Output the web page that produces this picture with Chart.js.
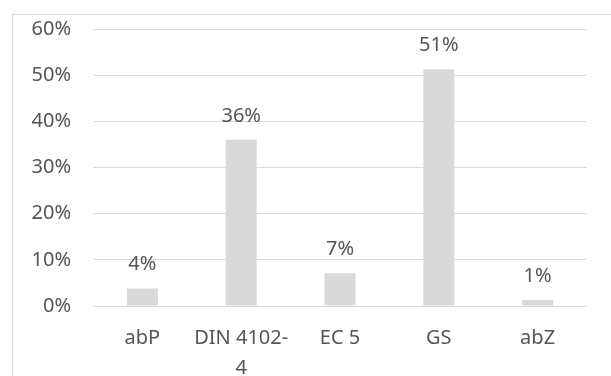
<!DOCTYPE html>
<html>
<head>
<meta charset="utf-8">
<script src="https://cdn.jsdelivr.net/npm/chart.js@4/dist/chart.umd.min.js"></script>
<style>
  html, body { margin: 0; padding: 0; background: #fff; overflow: hidden; }
  #wrap { position: relative; width: 611px; height: 376px; }
  #frame { position: absolute; left: 12px; top: 14px; width: 700px; height: 500px; border: 1px solid #D9D9D9; box-sizing: border-box; }
  canvas { position: absolute; left: 0; top: 0; }
</style>
</head>
<body>
<div id="wrap">
  <div id="frame"></div>
  <canvas id="c" width="611" height="376"></canvas>
</div>
<script>
const categories = ['abP', ['DIN 4102-', '4'], 'EC 5', 'GS', 'abZ'];
const shares = [3.8, 36.0, 7.1, 51.3, 1.3];
const yTicks = [0, 10, 20, 30, 40, 50, 60];

const FONT = "'Noto Sans', sans-serif";
const TXT = '#555555';

const labelPlugin = {
  id: 'barLabels',
  afterDatasetsDraw(chart) {
    const ctx = chart.ctx;
    const meta = chart.getDatasetMeta(0);
    ctx.save();
    ctx.font = '20px ' + FONT;
    ctx.fillStyle = TXT;
    ctx.textAlign = 'center';
    ctx.textBaseline = 'alphabetic';
    meta.data.forEach((bar, i) => {
      ctx.fillText(Math.round(shares[i]) + '%', bar.x, bar.y - 18);
    });
    ctx.restore();
  }
};

new Chart(document.getElementById('c'), {
  type: 'bar',
  data: {
    labels: categories,
    datasets: [{
      data: shares,
      backgroundColor: '#D9D9D9',
      borderWidth: 0,
      categoryPercentage: 1,
      barPercentage: 0.314
    }]
  },
  options: {
    responsive: false,
    animation: false,
    events: [],
    layout: { padding: { left: 0, right: 24, top: 29, bottom: 0 } },
    plugins: { legend: { display: false }, tooltip: { enabled: false } },
    scales: {
      x: {
        grid: { display: false, drawTicks: false },
        border: { display: false },
        ticks: {
          color: TXT,
          font: { family: FONT, size: 20, lineHeight: 1.5 },
          padding: 17,
          maxRotation: 0,
          autoSkip: false
        },
        afterFit(s) { s.height = 70; s.paddingLeft = 0; s.paddingRight = 0; }
      },
      y: {
        min: 0, max: 60,
        afterBuildTicks(s) { s.ticks = yTicks.map(v => ({ value: v })); },
        grid: { color: '#D9D9D9', lineWidth: 1, drawTicks: false },
        border: { display: false },
        ticks: {
          color: TXT,
          font: { family: FONT, size: 20 },
          padding: 22,
          callback: v => v + '%'
        },
        afterFit(s) { s.width = 93; s.paddingTop = 0; s.paddingBottom = 0; }
      }
    }
  },
  plugins: [labelPlugin]
});
</script>
</body>
</html>
